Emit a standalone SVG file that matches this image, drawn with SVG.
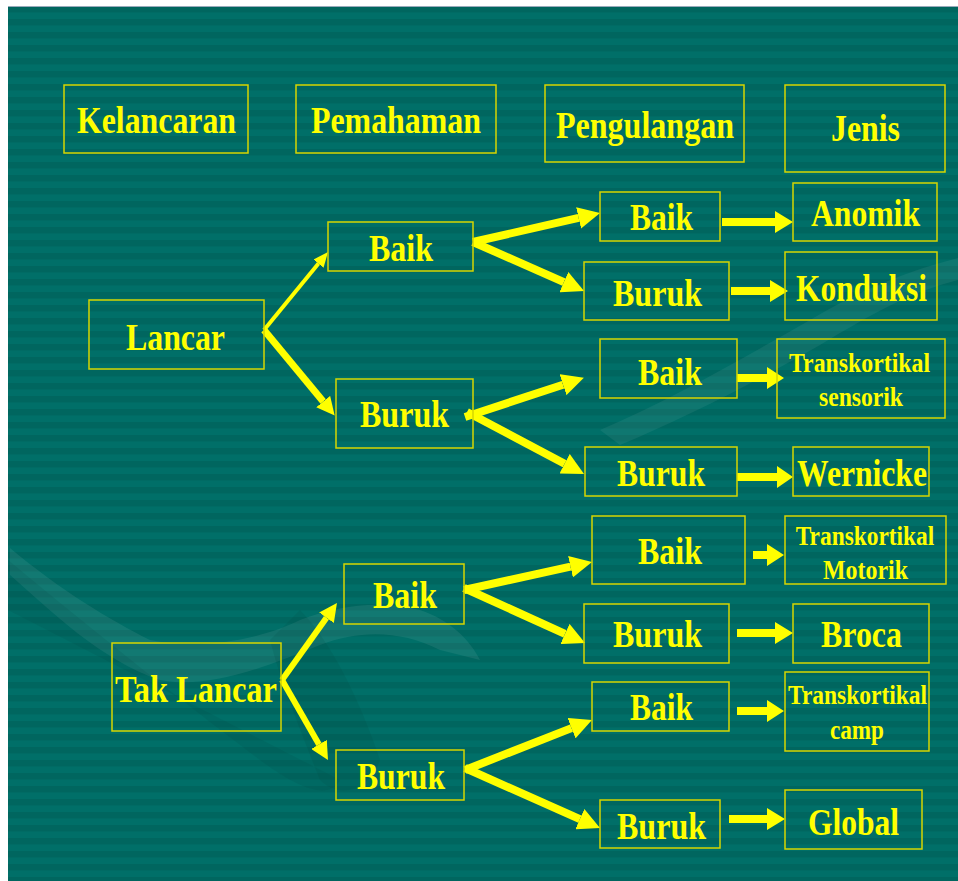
<svg xmlns="http://www.w3.org/2000/svg" width="958" height="881" viewBox="0 0 958 881">
<defs>
<pattern id="stripes" x="0" y="6" width="20" height="13" patternUnits="userSpaceOnUse">
<rect width="20" height="13" fill="#00665f"/>
<rect y="6.5" width="20" height="6.5" fill="#006f68"/>
</pattern>
<marker id="hL" markerUnits="userSpaceOnUse" markerWidth="22" markerHeight="22" refX="0" refY="11" orient="auto" viewBox="0 0 22 22"><path d="M0,0 L22,11 L0,22 Z" fill="#ffff00"/></marker>
<marker id="hM" markerUnits="userSpaceOnUse" markerWidth="18" markerHeight="18" refX="0" refY="9" orient="auto" viewBox="0 0 18 18"><path d="M0,0 L18,9 L0,18 Z" fill="#ffff00"/></marker>
<marker id="hS" markerUnits="userSpaceOnUse" markerWidth="15" markerHeight="13" refX="0" refY="6.5" orient="auto" viewBox="0 0 15 13"><path d="M0,0 L15,6.5 L0,13 Z" fill="#ffff00"/></marker>
</defs>
<style>
.box{fill:none;stroke:#d6d600;stroke-width:1.5}
.t{font-family:"Liberation Serif","Times New Roman",serif;font-weight:bold;fill:#ffff00}
.big{font-size:38px}
.sm{font-size:28px}
.c{stroke:#ffff00;fill:none;stroke-linecap:butt}
.ha{fill:#ffff00}
</style>
<rect x="0" y="0" width="958" height="881" fill="#ffffff"/>
<rect x="8" y="6" width="950" height="875" fill="url(#stripes)"/>
<line x1="8" y1="6.5" x2="958" y2="6.5" stroke="#9ab" stroke-width="1"/>
<g id="watermark">
<path d="M10,548 C60,590 110,620 150,640 C200,650 260,640 300,620 C340,605 380,600 420,610 C450,620 470,640 480,660 L440,650 C400,630 360,630 320,645 C270,665 210,690 160,680 C100,660 50,610 10,575 Z" fill="#ffffff" opacity="0.07"/>
<path d="M300,610 C330,640 360,700 380,760 C370,790 340,800 320,780 C300,730 280,680 270,640 Z" fill="#003f3a" opacity="0.12"/>
<path d="M8,560 C80,620 180,700 260,760 C300,790 330,800 340,780 L8,610 Z" fill="#003f3a" opacity="0.10"/>
<path d="M600,430 C670,400 740,360 810,320 C860,290 910,270 958,258 L958,280 C910,292 870,315 820,345 C750,385 680,420 620,445 Z" fill="#ffffff" opacity="0.06"/>
</g>
<g id="connectors">
<line class="c" x1="264" y1="330" x2="318.5" y2="263.6" stroke-width="4" marker-end="url(#hS)"/>
<line class="c" x1="264" y1="330" x2="323.2" y2="401.6" stroke-width="7" marker-end="url(#hM)"/>
<line class="c" x1="473" y1="242" x2="578.6" y2="217.9" stroke-width="8" marker-end="url(#hL)"/>
<line class="c" x1="473" y1="242" x2="563.9" y2="282.1" stroke-width="8" marker-end="url(#hL)"/>
<line class="c" x1="465" y1="417" x2="563" y2="384.7" stroke-width="8" marker-end="url(#hL)"/>
<line class="c" x1="467" y1="412" x2="564.6" y2="463.7" stroke-width="8" marker-end="url(#hL)"/>
<line class="c" x1="282" y1="680" x2="326.5" y2="617.7" stroke-width="6" marker-end="url(#hM)"/>
<line class="c" x1="282" y1="680" x2="319" y2="744.4" stroke-width="6" marker-end="url(#hM)"/>
<line class="c" x1="464" y1="590" x2="570.5" y2="566.7" stroke-width="8" marker-end="url(#hL)"/>
<line class="c" x1="464" y1="588" x2="565" y2="633.9" stroke-width="8" marker-end="url(#hL)"/>
<line class="c" x1="465" y1="770" x2="571.5" y2="728.1" stroke-width="8" marker-end="url(#hL)"/>
<line class="c" x1="465" y1="768" x2="579.9" y2="819.1" stroke-width="8" marker-end="url(#hL)"/>
<polygon class="ha" points="722,218 775,218 775,211 793,222 775,233 775,226 722,226"/>
<polygon class="ha" points="731,287 770,287 770,280 788,291 770,302 770,295 731,295"/>
<polygon class="ha" points="737,374 767,374 767,367 784,378 767,389 767,382 737,382"/>
<polygon class="ha" points="737,473 777,473 777,466 793,477 777,488 777,481 737,481"/>
<polygon class="ha" points="753,551 767,551 767,544 784,555 767,566 767,559 753,559"/>
<polygon class="ha" points="737,629 775,629 775,622 793,633 775,644 775,637 737,637"/>
<polygon class="ha" points="737,707 767,707 767,700 784,711 767,722 767,715 737,715"/>
<polygon class="ha" points="729,815 767,815 767,808 785,819 767,830 767,823 729,823"/>
</g>
<g id="h-kelancaran"><rect class="box" x="64" y="85" width="184" height="68"/><text class="t big" x="77" y="133" textLength="159" lengthAdjust="spacingAndGlyphs">Kelancaran</text></g>
<g id="h-pemahaman"><rect class="box" x="296" y="85" width="200" height="68"/><text class="t big" x="311" y="133" textLength="170" lengthAdjust="spacingAndGlyphs">Pemahaman</text></g>
<g id="h-pengulangan"><rect class="box" x="545" y="85" width="199" height="77"/><text class="t big" x="556" y="138" textLength="178" lengthAdjust="spacingAndGlyphs">Pengulangan</text></g>
<g id="h-jenis"><rect class="box" x="785" y="85" width="160" height="87"/><text class="t big" x="831" y="141" textLength="69" lengthAdjust="spacingAndGlyphs">Jenis</text></g>
<g id="lancar"><rect class="box" x="89" y="300" width="175" height="69"/><text class="t big" x="126" y="350" textLength="99" lengthAdjust="spacingAndGlyphs">Lancar</text></g>
<g id="tak-lancar"><rect class="box" x="112" y="643" width="169" height="88"/><text class="t big" x="115" y="702" textLength="162" lengthAdjust="spacingAndGlyphs">Tak Lancar</text></g>
<g id="p-baik-1"><rect class="box" x="328" y="222" width="145" height="49"/><text class="t big" x="369" y="261" textLength="64" lengthAdjust="spacingAndGlyphs">Baik</text></g>
<g id="p-buruk-1"><rect class="box" x="336" y="379" width="137" height="69"/><text class="t big" x="360" y="427" textLength="89" lengthAdjust="spacingAndGlyphs">Buruk</text></g>
<g id="p-baik-2"><rect class="box" x="344" y="564" width="120" height="60"/><text class="t big" x="373" y="608" textLength="64" lengthAdjust="spacingAndGlyphs">Baik</text></g>
<g id="p-buruk-2"><rect class="box" x="336" y="750" width="128" height="50"/><text class="t big" x="357" y="789" textLength="88" lengthAdjust="spacingAndGlyphs">Buruk</text></g>
<g id="r-baik-1"><rect class="box" x="600" y="192" width="120" height="49"/><text class="t big" x="630" y="230" textLength="63" lengthAdjust="spacingAndGlyphs">Baik</text></g>
<g id="r-buruk-1"><rect class="box" x="584" y="262" width="145" height="58"/><text class="t big" x="613" y="306" textLength="89" lengthAdjust="spacingAndGlyphs">Buruk</text></g>
<g id="r-baik-2"><rect class="box" x="600" y="339" width="137" height="59"/><text class="t big" x="638" y="385" textLength="64" lengthAdjust="spacingAndGlyphs">Baik</text></g>
<g id="r-buruk-2"><rect class="box" x="585" y="447" width="152" height="49"/><text class="t big" x="617" y="486" textLength="88" lengthAdjust="spacingAndGlyphs">Buruk</text></g>
<g id="r-baik-3"><rect class="box" x="592" y="516" width="153" height="68"/><text class="t big" x="638" y="564" textLength="64" lengthAdjust="spacingAndGlyphs">Baik</text></g>
<g id="r-buruk-3"><rect class="box" x="584" y="604" width="145" height="59"/><text class="t big" x="613" y="647" textLength="89" lengthAdjust="spacingAndGlyphs">Buruk</text></g>
<g id="r-baik-4"><rect class="box" x="592" y="682" width="137" height="49"/><text class="t big" x="630" y="720" textLength="63" lengthAdjust="spacingAndGlyphs">Baik</text></g>
<g id="r-buruk-4"><rect class="box" x="600" y="800" width="120" height="48"/><text class="t big" x="617" y="839" textLength="89" lengthAdjust="spacingAndGlyphs">Buruk</text></g>
<g id="anomik"><rect class="box" x="793" y="183" width="144" height="58"/><text class="t big" x="811" y="226" textLength="109" lengthAdjust="spacingAndGlyphs">Anomik</text></g>
<g id="konduksi"><rect class="box" x="785" y="252" width="152" height="68"/><text class="t big" x="796" y="301" textLength="131" lengthAdjust="spacingAndGlyphs">Konduksi</text></g>
<g id="ts-sensorik"><rect class="box" x="777" y="339" width="168" height="79"/><text class="t sm" x="789" y="372" textLength="141" lengthAdjust="spacingAndGlyphs">Transkortikal</text><text class="t sm" x="819" y="406" textLength="84" lengthAdjust="spacingAndGlyphs">sensorik</text></g>
<g id="wernicke"><rect class="box" x="793" y="447" width="136" height="49"/><text class="t big" x="797" y="486" textLength="130" lengthAdjust="spacingAndGlyphs">Wernicke</text></g>
<g id="ts-motorik"><rect class="box" x="785" y="516" width="161" height="68"/><text class="t sm" transform="translate(865,545) scale(0.835,1)" text-anchor="middle">Transkortikal</text><text class="t sm" x="823" y="579" textLength="85" lengthAdjust="spacingAndGlyphs">Motorik</text></g>
<g id="broca"><rect class="box" x="793" y="604" width="136" height="59"/><text class="t big" x="821" y="647" textLength="81" lengthAdjust="spacingAndGlyphs">Broca</text></g>
<g id="ts-camp"><rect class="box" x="785" y="672" width="144" height="79"/><text class="t sm" x="788" y="704" textLength="139" lengthAdjust="spacingAndGlyphs">Transkortikal</text><text class="t sm" x="830" y="739" textLength="54" lengthAdjust="spacingAndGlyphs">camp</text></g>
<g id="global"><rect class="box" x="785" y="790" width="137" height="59"/><text class="t big" x="808" y="835" textLength="91" lengthAdjust="spacingAndGlyphs">Global</text></g>
</svg>
